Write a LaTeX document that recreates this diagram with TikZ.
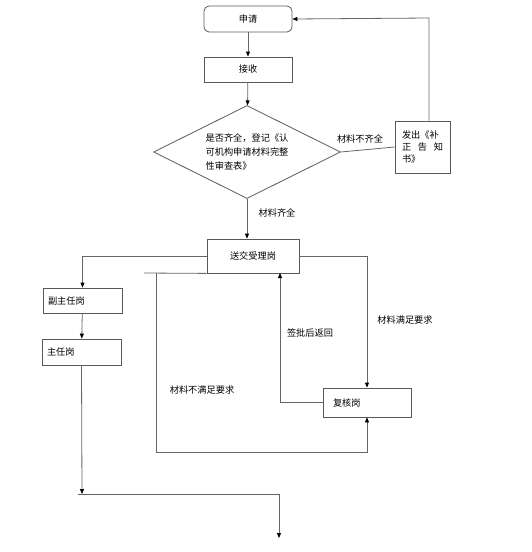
\documentclass[tikz,border=0pt]{standalone}
\usepackage{fontspec}
\newfontfamily\cjkfont{Noto Sans CJK SC}
\usetikzlibrary{shapes.geometric,arrows.meta}

\begin{document}
\begin{tikzpicture}[x=1pt,y=-1pt,
  every node/.style={font=\cjkfont\fontsize{9.2}{14}\selectfont},
  box/.style={draw=black!65,line width=0.8pt,minimum width=88pt,minimum height=26pt,inner sep=0pt},
  lbox/.style={box,minimum width=0pt,text width=69pt,align=left,inner sep=5pt},
  flow/.style={draw=black!60,line width=0.8pt},
  arr/.style={flow,-{Triangle[length=5pt,width=4pt,color=black]}}]
  \useasboundingbox (0,0) rectangle (532,552);
  % boxes
  \node[box,rounded corners=5pt] (apply) at (248,19) {申请};
  \node[box,minimum height=25pt] (receive) at (248,69.5) {接收};
  \node[draw=black!65,line width=0.8pt,diamond,aspect=2,inner sep=0pt,
        minimum width=187pt,minimum height=93pt,align=left] (check) at (247,152)
        {是否齐全，登记《认\\可机构申请材料完整\\性审查表》};
  \node[box,minimum width=55pt,minimum height=52pt,text width=41pt,align=left,
        font=\cjkfont\fontsize{9.2}{12}\selectfont] (notice) at (422.5,147)
        {发出《补\\正\hfill{}告\hfill{}知\\书》};
  \node[box,minimum width=92pt,minimum height=34pt] (send) at (253,256) {送交受理岗};
  \node[lbox,minimum height=25pt] (deputy) at (82.5,300.5) {副主任岗};
  \node[lbox,minimum height=26pt] (director) at (81.5,352) {主任岗};
  \node[lbox,minimum height=29pt,text width=68pt,inner xsep=10pt] (review) at (367,402.5) {复核岗};
  % turning points
  \coordinate (corner) at (429,18);
  \coordinate (merge) at (82,494);
  \coordinate (mergeL) at (78,494);
  \coordinate (done) at (279,538);
  \coordinate (stub) at (144,273);
  \coordinate (fail) at (156,452);
  \coordinate (ret) at (280,273);
  % connectors
  \draw[arr] (apply) -- (receive);
  \draw[arr] (receive) -- (check);
  \draw[flow] (check.east) -- (notice.west);
  \draw[arr] (notice.north -| corner) -- (corner) -- (apply.east);
  \draw[arr] (check.south) -- (check.south |- send.north);
  \draw[arr] (send.west) -| (deputy.north);
  \draw[arr] (deputy) -- (director);
  \draw[arr] (director.south) -- (merge);
  \draw[arr] (mergeL) -| (done);
  \draw[flow] (stub) -- (send.south west);
  \draw[arr] (stub -| fail) -- (fail) -| (review.south);
  \draw[arr] (send.east) -| (review.north);
  \draw[arr] (review.west) -| (ret);
  % labels
  \node (lackLbl) at (360,139) {材料不齐全};
  \node (fullLbl) at (277,213) {材料齐全};
  \node (okLbl) at (405,320) {材料满足要求};
  \node (signLbl) at (310,333) {签批后返回};
  \node (nokLbl) at (202,390) {材料不满足要求};
\end{tikzpicture}
\end{document}
